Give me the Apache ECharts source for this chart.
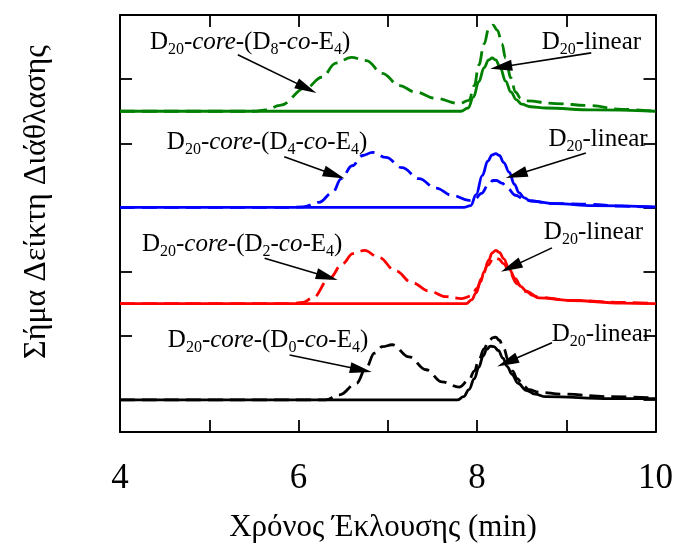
<!DOCTYPE html>
<html><head><meta charset="utf-8">
<script src="https://cdn.jsdelivr.net/npm/echarts@6/dist/echarts.min.js"></script>
<style>html,body{margin:0;padding:0;background:#fff}#c{width:676px;height:553px}</style>
</head><body><div id="c"></div>
<script>
// ---- data (elution time in min, signal height above each trace's baseline) ----
const xTicks = [4, 6, 8, 10];
const yTicks = [0, 1, 2, 3, 4, 5];
const baseBlack = 0.0, baseRed = 1.5, baseBlue = 3.0, baseGreen = 4.5;

const greenDashT = [4, 5.50, 5.64, 5.79, 6.09, 6.26, 6.42, 6.59, 6.76, 6.94, 7.13, 7.31, 7.54, 7.80, 7.91, 7.97, 8.02, 8.08, 8.13, 8.18, 8.23, 8.28, 8.32, 8.38, 8.43, 8.49, 8.55, 8.88, 9.25, 9.62, 10];
const greenDashH = [0, 0, 0.02, 0.09, 0.37, 0.53, 0.75, 0.84, 0.79, 0.59, 0.40, 0.30, 0.20, 0.12, 0.17, 0.40, 0.72, 1.05, 1.28, 1.34, 1.26, 1.05, 0.83, 0.52, 0.30, 0.20, 0.16, 0.12, 0.09, 0.03, 0];
const greenSolidT = [4, 7.82, 7.90, 7.96, 8.02, 8.08, 8.13, 8.17, 8.21, 8.26, 8.32, 8.38, 8.44, 8.50, 8.60, 8.77, 9.30, 10];
const greenSolidH = [0, 0, 0.05, 0.22, 0.46, 0.68, 0.80, 0.83, 0.80, 0.68, 0.47, 0.30, 0.18, 0.11, 0.07, 0.05, 0.02, 0];

const blueDashT = [4, 5.90, 6.05, 6.23, 6.38, 6.48, 6.60, 6.72, 6.83, 6.98, 7.16, 7.35, 7.54, 7.72, 7.91, 7.97, 8.05, 8.13, 8.18, 8.22, 8.28, 8.34, 8.43, 8.55, 8.88, 9.25, 9.62, 10];
const blueDashH = [0, 0, 0.01, 0.08, 0.23, 0.45, 0.65, 0.81, 0.86, 0.78, 0.62, 0.45, 0.30, 0.19, 0.11, 0.12, 0.22, 0.36, 0.42, 0.42, 0.38, 0.30, 0.19, 0.11, 0.06, 0.05, 0.02, 0];
const blueSolidT = [4, 7.85, 7.93, 7.99, 8.06, 8.12, 8.17, 8.21, 8.25, 8.30, 8.36, 8.42, 8.47, 8.53, 8.60, 8.88, 9.30, 10];
const blueSolidH = [0, 0, 0.03, 0.20, 0.50, 0.72, 0.82, 0.84, 0.81, 0.70, 0.55, 0.36, 0.23, 0.15, 0.10, 0.06, 0.03, 0.01];

const redDashT = [4, 5.90, 6.05, 6.16, 6.35, 6.49, 6.61, 6.74, 6.90, 7.09, 7.27, 7.46, 7.65, 7.83, 7.94, 8.00, 8.05, 8.12, 8.19, 8.24, 8.30, 8.36, 8.45, 8.55, 8.69, 9.06, 9.62, 10];
const redDashH = [0, 0, 0.02, 0.09, 0.40, 0.62, 0.78, 0.83, 0.72, 0.51, 0.33, 0.20, 0.11, 0.08, 0.12, 0.24, 0.39, 0.60, 0.72, 0.70, 0.62, 0.50, 0.31, 0.19, 0.10, 0.05, 0.02, 0];
const redSolidT = [4, 7.88, 7.94, 7.99, 8.04, 8.08, 8.13, 8.17, 8.21, 8.25, 8.30, 8.36, 8.43, 8.49, 8.55, 8.62, 8.69, 9.06, 9.62, 10];
const redSolidH = [0, 0, 0.06, 0.17, 0.34, 0.50, 0.68, 0.79, 0.83, 0.80, 0.70, 0.54, 0.39, 0.27, 0.20, 0.13, 0.09, 0.05, 0.01, 0];

const blackDashT = [4, 6.30, 6.46, 6.65, 6.76, 6.85, 6.94, 7.05, 7.24, 7.43, 7.61, 7.80, 7.91, 7.97, 8.02, 8.08, 8.13, 8.18, 8.21, 8.25, 8.30, 8.35, 8.40, 8.45, 8.52, 8.58, 8.70, 8.95, 9.51, 10];
const blackDashH = [0, 0, 0.08, 0.26, 0.51, 0.73, 0.83, 0.86, 0.67, 0.47, 0.28, 0.20, 0.31, 0.45, 0.62, 0.80, 0.92, 0.97, 0.98, 0.93, 0.80, 0.62, 0.45, 0.33, 0.22, 0.16, 0.12, 0.09, 0.05, 0.03];
const blackSolidT = [4, 7.78, 7.85, 7.91, 7.97, 8.02, 8.07, 8.11, 8.15, 8.19, 8.24, 8.29, 8.34, 8.39, 8.46, 8.55, 8.65, 8.77, 9.50, 10];
const blackSolidH = [0, 0, 0.05, 0.16, 0.33, 0.51, 0.69, 0.79, 0.84, 0.83, 0.77, 0.65, 0.52, 0.40, 0.26, 0.15, 0.09, 0.05, 0.02, 0.02];

// annotation labels
const coreLabels = ['8', '4', '2', '0'];
const linearLabel = '20';

// ---- chart ----
const chart = echarts.init(document.getElementById('c'), null, {renderer: 'canvas'});
const FONT = '"Liberation Serif", "Times New Roman", serif';

function pts(t, h, base) { return t.map((v, i) => [v, h[i] + base]); }
function line(name, t, h, base, color, dashed) {
  return {
    name, type: 'line', data: pts(t, h, base), showSymbol: false, symbol: 'none',
    smooth: 0.4, smoothMonotone: 'x', silent: true, animation: false,
    lineStyle: {color, width: 2.8, type: dashed ? [15, 7] : 'solid', cap: 'butt'},
    z: dashed ? 3 : 4
  };
}

const arrows = [
  [[5.32, 5.38], [6.09, 4.86]],
  [[9.28, 5.41], [8.27, 5.19]],
  [[5.84, 3.79], [6.40, 3.51]],
  [[9.22, 3.85], [8.44, 3.51]],
  [[5.62, 2.21], [6.32, 1.92]],
  [[8.84, 2.37], [8.38, 2.07]],
  [[5.90, 0.70], [6.70, 0.47]],
  [[8.84, 0.89], [8.34, 0.59]]
];

const series = [
  line('greenDash', greenDashT, greenDashH, baseGreen, '#008000', true),
  line('greenSolid', greenSolidT, greenSolidH, baseGreen, '#008000', false),
  line('blueDash', blueDashT, blueDashH, baseBlue, '#0000ff', true),
  line('blueSolid', blueSolidT, blueSolidH, baseBlue, '#0000ff', false),
  line('redDash', redDashT, redDashH, baseRed, '#ff0000', true),
  line('redSolid', redSolidT, redSolidH, baseRed, '#ff0000', false),
  line('blackDash', blackDashT, blackDashH, baseBlack, '#000000', true),
  line('blackSolid', blackSolidT, blackSolidH, baseBlack, '#000000', false)
];
series[7].markLine = {
  silent: true, animation: false, symbol: ['none', 'triangle'], symbolSize: [11, 22],
  symbolOffset: [0, 0],
  label: {show: false}, lineStyle: {color: '#000', width: 1.6, type: 'solid'},
  emphasis: {disabled: true},
  data: arrows.map(a => [{coord: a[0]}, {coord: a[1]}])
};

const tickStyle = {show: true, inside: true, length: 12, lineStyle: {color: '#000', width: 1.8}};
const yTickStyle = Object.assign({}, tickStyle, {customValues: yTicks});
const axisLine = {show: true, onZero: false, lineStyle: {color: '#000', width: 2}};

chart.setOption({
  animation: false,
  backgroundColor: '#fff',
  grid: {left: 120, right: 19, top: 15, bottom: 121, containLabel: false},
  xAxis: [
    {type: 'value', position: 'bottom', min: 4, max: 10, interval: 2,
     axisLine, axisTick: tickStyle,
     minorTick: {show: true, splitNumber: 2, length: 12, lineStyle: {color: '#000', width: 1.8}},
     splitLine: {show: false},
     axisLabel: {show: true, margin: 29, fontFamily: FONT, fontSize: 35, color: '#000',
       formatter: v => xTicks.includes(v) ? String(v) : ''}},
    {type: 'value', position: 'top', min: 4, max: 10, interval: 2,
     axisLine, axisTick: tickStyle,
     minorTick: {show: true, splitNumber: 2, length: 12, lineStyle: {color: '#000', width: 1.8}},
     splitLine: {show: false}, axisLabel: {show: false}}
  ],
  yAxis: [
    {type: 'value', position: 'left', min: -0.5, max: 6, interval: 0.5,
     axisLine, axisTick: yTickStyle, splitLine: {show: false}, axisLabel: {show: false}},
    {type: 'value', position: 'right', min: -0.5, max: 6, interval: 0.5,
     axisLine, axisTick: yTickStyle, splitLine: {show: false}, axisLabel: {show: false}}
  ],
  series
});

// text annotations positioned from data coordinates
const rich = {
  m: {fontFamily: FONT, fontSize: 25, color: '#000', lineHeight: 32},
  i: {fontFamily: FONT, fontSize: 25, color: '#000', lineHeight: 32, fontStyle: 'italic'},
  s: {fontFamily: FONT, fontSize: 16, color: '#000', lineHeight: 12, verticalAlign: 'bottom'}
};
function coreText(n) {
  return '{m|D}{s|20}{m|-}{i|core}{m|-(D}{s|' + n + '}{m|-}{i|co}{m|-E}{s|4}{m|)}';
}
const linText = '{m|D}{s|' + linearLabel + '}{m|-linear}';
const anchors = [
  {t: coreText(coreLabels[0]), p: [4.335, 5.58]},
  {t: linText, p: [8.726, 5.58]},
  {t: coreText(coreLabels[1]), p: [4.525, 4.02]},
  {t: linText, p: [8.80, 4.067]},
  {t: coreText(coreLabels[2]), p: [4.246, 2.43]},
  {t: linText, p: [8.749, 2.618]},
  {t: coreText(coreLabels[3]), p: [4.536, 0.934]},
  {t: linText, p: [8.838, 1.028]}
];
const graphics = anchors.map(a => {
  const px = chart.convertToPixel({xAxisIndex: 0, yAxisIndex: 0}, a.p);
  return {type: 'text', x: px[0], y: px[1], z: 10, silent: true,
    style: {text: a.t, rich, align: 'left', verticalAlign: 'middle', fill: '#000'}};
});
graphics.push({type: 'text', x: 383, y: 528, silent: true,
  style: {text: 'Χρόνος Έκλουσης (min)', fontFamily: FONT, fontSize: 31, fill: '#000', align: 'center', verticalAlign: 'middle'}});
graphics.push({type: 'text', x: 37, y: 202, rotation: Math.PI / 2, silent: true,
  style: {text: 'Σήμα Δείκτη Διάθλασης', fontFamily: FONT, fontSize: 32, fill: '#000', align: 'center', verticalAlign: 'middle'}});
chart.setOption({graphic: graphics});
</script>
</body></html>
